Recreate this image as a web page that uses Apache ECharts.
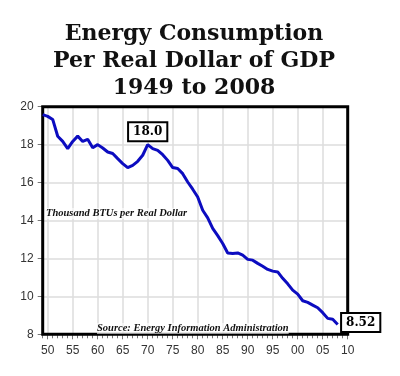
<!DOCTYPE html>
<html>
<head>
<meta charset="utf-8">
<script src="https://cdn.jsdelivr.net/npm/echarts@6/dist/echarts.min.js"></script>
<style>html,body{margin:0;padding:0;background:#fff;}#c{width:400px;height:376px;}</style>
</head>
<body>
<div id="c"></div>
<script>
const years = [1949,1950,1951,1952,1953,1954,1955,1956,1957,1958,1959,1960,1961,1962,1963,1964,1965,1966,1967,1968,1969,1970,1971,1972,1973,1974,1975,1976,1977,1978,1979,1980,1981,1982,1983,1984,1985,1986,1987,1988,1989,1990,1991,1992,1993,1994,1995,1996,1997,1998,1999,2000,2001,2002,2003,2004,2005,2006,2007,2008];
const values = [19.58,19.49,19.33,18.44,18.17,17.79,18.17,18.45,18.17,18.28,17.84,18.00,17.82,17.61,17.53,17.26,17.00,16.79,16.91,17.12,17.44,18.00,17.79,17.70,17.47,17.17,16.79,16.74,16.47,16.03,15.65,15.24,14.54,14.14,13.58,13.20,12.79,12.29,12.26,12.29,12.17,11.95,11.91,11.74,11.59,11.42,11.33,11.29,10.95,10.66,10.33,10.12,9.77,9.68,9.54,9.40,9.14,8.84,8.79,8.52];
const majorYears = [1950,1955,1960,1965,1970,1975,1980,1985,1990,1995,2000,2005,2010];
const allTickYears = [1949,1950,1951,1952,1953,1954,1955,1956,1957,1958,1959,1960,1961,1962,1963,1964,1965,1966,1967,1968,1969,1970,1971,1972,1973,1974,1975,1976,1977,1978,1979,1980,1981,1982,1983,1984,1985,1986,1987,1988,1989,1990,1991,1992,1993,1994,1995,1996,1997,1998,1999,2000,2001,2002,2003,2004,2005,2006,2007,2008,2009,2010];
const titleLines = ['Energy Consumption','Per Real Dollar of GDP','1949 to 2008'];
const unitText = 'Thousand BTUs per Real Dollar';
const sourceText = 'Source: Energy Information Administration';
const peakLabel = {year:1970, value:18.0, text:'18.0'};
const endLabel = {year:2008, value:8.52, text:'8.52'};

const chart = echarts.init(document.getElementById('c'), null, {renderer:'canvas'});
const boxLabel = {
  show:true, color:'#000', fontFamily:'DejaVu Serif', fontWeight:'bold', fontSize:12,
  backgroundColor:'#fff', borderColor:'#000', borderWidth:2, padding:[3,4,2,4]
};
chart.setOption({
  animation:false,
  backgroundColor:'#fff',
  graphic:[
    {type:'text', x:194, y:21, z:20, style:{text:titleLines.join('\n'), font:'bold 22px "DejaVu Serif"', fill:'#111', lineHeight:27, align:'center', verticalAlign:'top'}},
    {type:'text', x:46, y:208, z:20, style:{text:unitText, font:'italic bold 10.5px "Liberation Serif"', fill:'#111', backgroundColor:'rgba(255,255,255,0.6)'}},
    {type:'text', x:97, y:323, z:20, style:{text:sourceText, font:'italic bold 10.5px "Liberation Serif"', fill:'#111', backgroundColor:'rgba(255,255,255,0.6)'}}
  ],
  grid:{left:42.7, right:52.3, top:106.7, bottom:41.7, show:true, borderColor:'#000', borderWidth:3, backgroundColor:'transparent', z:3},
  xAxis:[{
    type:'value', min:1949, max:2010,
    axisLine:{show:false},
    axisTick:{show:true, customValues:majorYears, length:5, lineStyle:{color:'#777'}},
    axisLabel:{customValues:majorYears, fontSize:12, color:'#333', fontFamily:'Liberation Sans', margin:10,
      formatter:v=>String(v).slice(2)},
    splitLine:{show:true, lineStyle:{color:'#dcdcdc', width:1.5}}
  },{
    type:'value', min:1949, max:2010, position:'bottom',
    axisLine:{show:false},
    axisTick:{show:true, customValues:allTickYears, length:4, lineStyle:{color:'#777'}},
    axisLabel:{show:false}, splitLine:{show:false}
  }],
  yAxis:{
    type:'value', min:8, max:20, interval:2,
    axisLine:{show:false},
    axisTick:{show:true, length:5, lineStyle:{color:'#777'}},
    axisLabel:{fontSize:12, color:'#333', fontFamily:'Liberation Sans', margin:9},
    splitLine:{show:true, lineStyle:{color:'#dcdcdc', width:1.5}}
  },
  series:[{
    type:'line', xAxisIndex:0, showSymbol:false, symbol:'none',
    data: years.map((y,i)=>[y, values[i]]),
    lineStyle:{color:'#0c0cc0', width:3},
    z:5,
    markPoint:{
      symbol:'circle', symbolSize:0, z:10,
      data:[
        {coord:[peakLabel.year, peakLabel.value], label:Object.assign({}, boxLabel, {formatter:peakLabel.text, position:'inside', offset:[0,-13]})},
        {coord:[endLabel.year, endLabel.value], label:Object.assign({}, boxLabel, {formatter:endLabel.text, position:'inside', offset:[23,-2]})}
      ]
    }
  }]
});
</script>
</body>
</html>
